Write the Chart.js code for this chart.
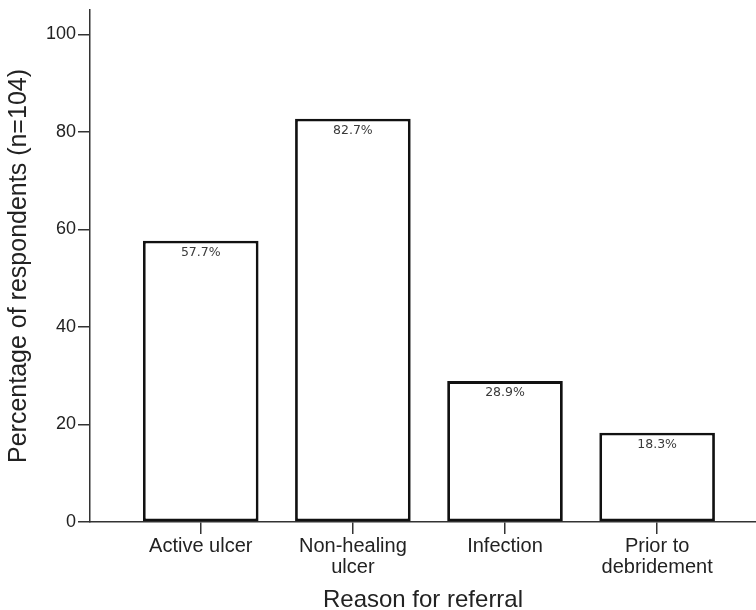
<!DOCTYPE html>
<html>
<head>
<meta charset="utf-8">
<script src="https://cdn.jsdelivr.net/npm/chart.js@4/dist/chart.umd.min.js"></script>
<style>
  html, body { margin: 0; padding: 0; background: #fff; }
  canvas { display: block; }
</style>
</head>
<body>
<canvas id="c" width="756" height="610"></canvas>
<script>
const categories = [["Active ulcer"], ["Non-healing", "ulcer"], ["Infection"], ["Prior to", "debridement"]];
const percentages = [57.7, 82.7, 28.9, 18.3];
const yTicks = [0, 20, 40, 60, 80, 100];

const valueLabels = {
  id: 'valueLabels',
  afterDatasetsDraw(chart) {
    const ctx = chart.ctx;
    const meta = chart.getDatasetMeta(0);
    ctx.save();
    ctx.font = '12.5px "DejaVu Sans", sans-serif';
    ctx.fillStyle = '#3a3a3a';
    ctx.textAlign = 'center';
    ctx.textBaseline = 'middle';
    meta.data.forEach((bar, i) => {
      ctx.fillText(percentages[i].toFixed(1) + '%', bar.x, bar.y + 12);
    });
    ctx.restore();
  }
};

new Chart(document.getElementById('c'), {
  type: 'bar',
  data: {
    datasets: [{
      data: percentages.map((v, i) => ({ x: i, y: v })),
      backgroundColor: '#ffffff',
      borderColor: '#111111',
      borderWidth: 2.8,
      borderSkipped: false,
      barPercentage: 0.76,
      categoryPercentage: 1.0
    }]
  },
  plugins: [valueLabels],
  options: {
    responsive: false,
    animation: false,
    layout: { padding: { top: 10, left: 0, right: 0, bottom: 0 } },
    plugins: { legend: { display: false }, tooltip: { enabled: false } },
    scales: {
      x: {
        type: 'linear',
        offset: false,
        min: -0.728,
        max: 3.65,
        afterBuildTicks(scale) { scale.ticks = categories.map((c, i) => ({ value: i })); },
        afterFit(scale) { scale.height = 88; scale.paddingLeft = 0; scale.paddingRight = 0; },
        grid: { offset: false, drawOnChartArea: false, drawTicks: true, tickLength: 12, color: '#333', lineWidth: 1.5 },
        border: { display: true, color: '#333', width: 1.5 },
        ticks: {
          padding: 2,
          color: '#222',
          maxRotation: 0,
          autoSkip: false,
          font: { family: '"Liberation Sans", Arial, sans-serif', size: 20, lineHeight: 1.05 },
          callback: (v) => categories[v]
        },
        title: {
          display: true,
          text: 'Reason for referral',
          color: '#222',
          font: { family: '"Liberation Sans", Arial, sans-serif', size: 24, lineHeight: 0.8 },
          padding: { top: 0, bottom: 0 }
        }
      },
      y: {
        min: 0,
        max: 105,
        afterBuildTicks(scale) { scale.ticks = yTicks.map(v => ({ value: v })); },
        afterFit(scale) { scale.width = 90; scale.paddingTop = 0; scale.paddingBottom = 0; },
        grid: { drawOnChartArea: false, drawTicks: true, tickLength: 12, color: '#333', lineWidth: 1.5 },
        border: { display: true, color: '#333', width: 1.5 },
        ticks: {
          padding: 2,
          color: '#222',
          font: { family: '"Liberation Sans", Arial, sans-serif', size: 18 }
        },
        title: {
          display: true,
          text: 'Percentage of respondents (n=104)',
          color: '#222',
          font: { family: '"Liberation Sans", Arial, sans-serif', size: 25, lineHeight: 1.2 },
          padding: { top: 4.5, bottom: 0 }
        }
      }
    }
  }
});
</script>
</body>
</html>
